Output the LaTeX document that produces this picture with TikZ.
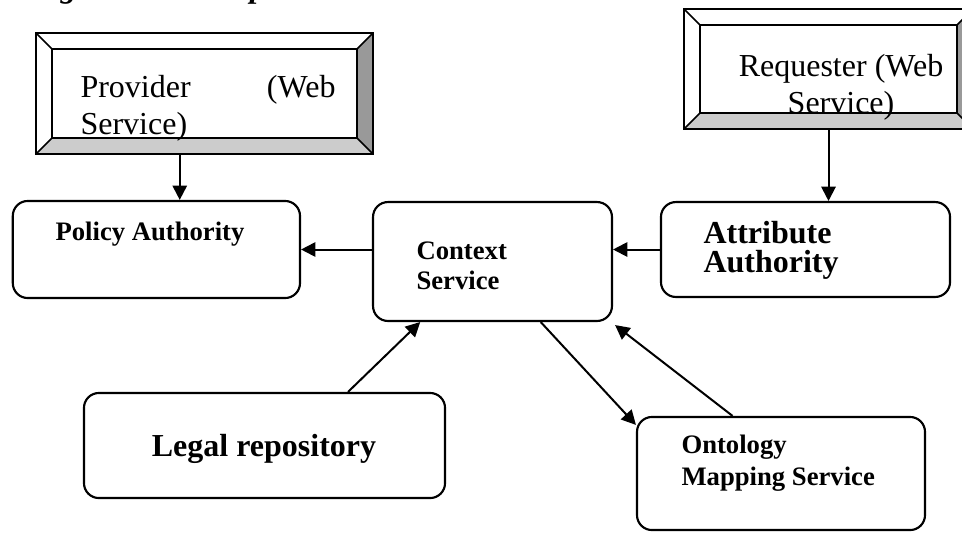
\documentclass[tikz,border=0pt]{standalone}
\usepackage{fontspec}
\setmainfont{Liberation Serif}
\usetikzlibrary{arrows.meta, calc}

\begin{document}
\begin{tikzpicture}[
  x=0.375pt, y=-0.375pt,
  service box/.style={
    draw,
    line width=0.8pt,
    rounded corners=5.6pt,
    inner sep=0pt
  },
  bevel box/.style={
    draw,
    line width=0.8pt,
    inner sep=0pt,
    path picture={
      \path (path picture bounding box.south west) coordinate (bsw)
            (path picture bounding box.south east) coordinate (bse)
            (path picture bounding box.north east) coordinate (bne)
            (path picture bounding box.north west) coordinate (bnw);
      \fill[black!20] (bsw) -- (bse) -- ($(bse)+(-6pt,6pt)$) -- ($(bsw)+(6pt,6pt)$) -- cycle;
      \fill[black!40] (bse) -- (bne) -- ($(bne)+(-6pt,-6pt)$) -- ($(bse)+(-6pt,6pt)$) -- cycle;
      \draw[line width=0.8pt] ($(bsw)+(6pt,6pt)$) rectangle ($(bne)+(-6pt,-6pt)$);
      \draw[line width=0.6pt] (bsw) -- ++(6pt,6pt) (bse) -- ++(-6pt,6pt)
                              (bne) -- ++(-6pt,-6pt) (bnw) -- ++(6pt,-6pt);
    }
  },
  service arrow/.style={
    -{Triangle[length=5.4pt,width=5.4pt]},
    line width=0.75pt
  },
  box text/.style={
    inner sep=0pt,
    font=\bfseries
  }
]

\useasboundingbox (0,0) rectangle (962,533);
\clip (0,0) rectangle (962,533);

\node[anchor=base west, inner sep=0pt, font=\fontsize{12}{14}\selectfont\bfseries\itshape] (title) at (30,-3)
  {Figure 1: Conceptual Framework};

% web services
\node[bevel box, minimum width=126.4pt, minimum height=45.4pt] (provider) at (204.5, 93.5) {};
\node[anchor=north west, inner sep=0pt, text width=95.6pt, align=left,
  font=\fontsize{12}{13.6}\selectfont] (provider text) at (80, 75) {Provider \hfill (Web\\Service)};

\node[bevel box, minimum width=108.4pt, minimum height=45pt] (requester) at (828.5, 69) {};
\node[anchor=north, inner sep=0pt, align=center,
  font=\fontsize{12}{13.8}\selectfont] (requester text) at (841, 54) {Requester (Web\\Service)};

% authorities and services
\node[service box, minimum width=107.7pt, minimum height=36.4pt] (policy) at (156.4, 249.5) {};
\node[box text, anchor=north, font=\fontsize{10}{12}\selectfont\bfseries] (policy text) at (150, 221) {Policy Authority};

\node[service box, minimum width=89.6pt, minimum height=44.6pt] (context) at (492.5, 261.5) {};
\node[box text, anchor=north west, align=left, font=\fontsize{10}{11.25}\selectfont\bfseries] (context text) at (416, 241)
  {Context\\Service};

\node[service box, minimum width=108.4pt, minimum height=35.6pt] (attribute) at (805.5, 249.5) {};
\node[box text, anchor=north west, align=left, font=\fontsize{12}{10.8}\selectfont\bfseries] (attribute text) at (703, 221)
  {Attribute\\Authority};

\node[service box, minimum width=135.4pt, minimum height=39.4pt] (legal) at (264.5, 445.5) {};
\node[box text, anchor=north, font=\fontsize{12}{14}\selectfont\bfseries] (legal text) at (264, 434) {Legal repository};

\node[service box, minimum width=108pt, minimum height=42.4pt] (ontology) at (781, 473.5) {};
\node[box text, anchor=north west, align=left, font=\fontsize{10}{12}\selectfont\bfseries] (ontology text) at (681, 434)
  {Ontology\\Mapping Service};

\coordinate (provider out) at ($(provider.south west)!0.427!(provider.south east)$);
\draw[service arrow] (provider out) -- (provider out |- policy.north);
\draw[service arrow] (requester.south) -- (requester.south |- attribute.north);
\draw[service arrow] (context.west |- policy.east) -- (policy.east);
\draw[service arrow] (attribute.west) -- (attribute.west -| context.east);
\draw[service arrow] ($(legal.north west)!0.73!(legal.north east)$) -- ($(context.south west)!0.2!(context.south east)$);
\draw[service arrow] ($(context.south west)!0.7!(context.south east)$) -- ($(ontology.north west)+(0,9)$);
\draw[service arrow] ($(ontology.north west)!0.333!(ontology.north east)$) -- ($(context.south east)+(2,3)$);

\end{tikzpicture}
\end{document}
